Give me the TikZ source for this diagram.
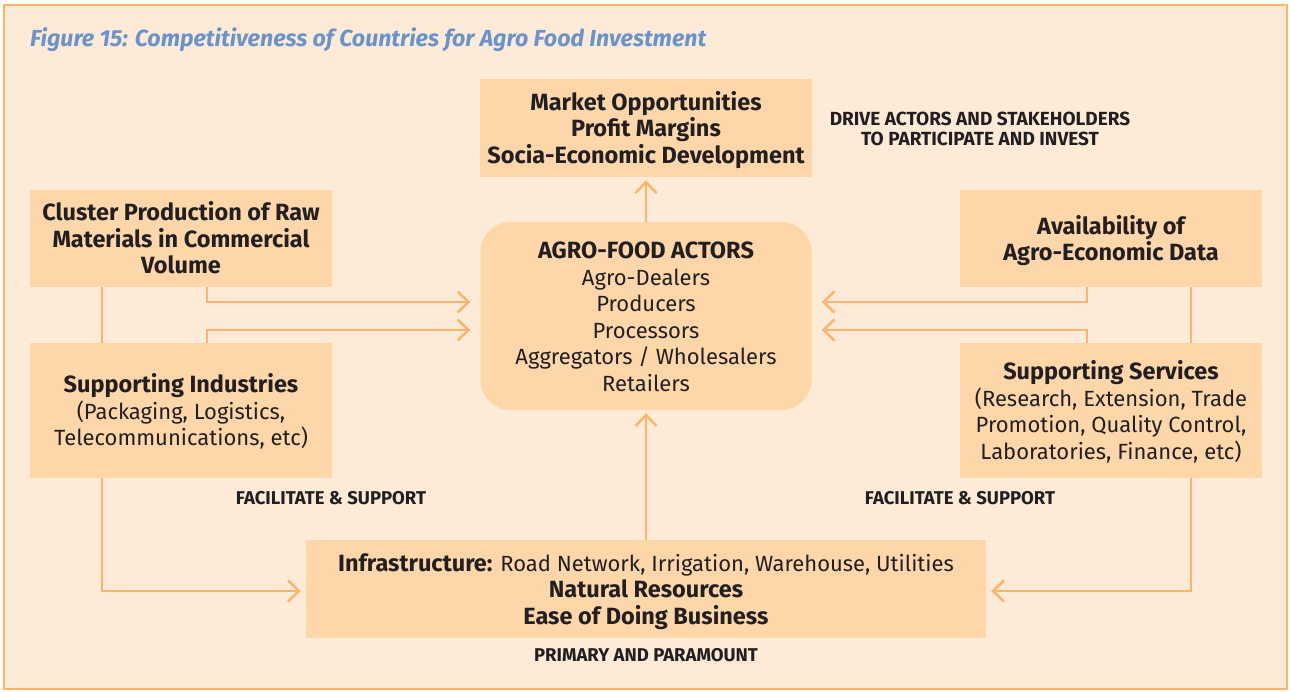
\documentclass[tikz,border=0pt]{standalone}
\usepackage{fontspec}
\setmainfont{Fira Sans}
\usetikzlibrary{arrows.meta,calc}
\definecolor{frameline}{HTML}{FDB46B}
\definecolor{paper}{HTML}{FEEBD7}
\definecolor{boxfill}{HTML}{FDD7AA}
\definecolor{titleblue}{HTML}{6A93CB}
\definecolor{ink}{HTML}{231F20}
\newcommand{\hd}{\fontsize{23.5}{26.5}\selectfont\bfseries}
% feste Hoehe der ersten und Tiefe der letzten Zeile
\newcommand{\firstln}{\rule{0pt}{23.5pt}}
\newcommand{\lastln}{\rule[-6pt]{0pt}{6pt}}
\tikzset{
  box/.style={fill=boxfill, text=ink, align=center, inner sep=0pt,
    font=\fontsize{22}{26.5}\selectfont},
  tag/.style={text=ink, align=center, inner sep=0pt,
    font=\fontsize{18.5}{20}\selectfont\bfseries},
  link/.style={draw=frameline, line width=2.5pt},
  arr/.style={link, -{Straight Barb[length=11pt,width=21pt,line width=2.5pt]}}
}
\begin{document}
\begin{tikzpicture}[x=1pt,y=-1pt]
\useasboundingbox (0,0) rectangle (1290,691);
\fill[white] (0,0) rectangle (1290,691);
% Rahmen und Titel
\draw[frameline, fill=paper, line width=2.5pt] (4,5) rectangle (1287,689);
\node[anchor=west, text=titleblue, inner sep=0pt,
  font=\fontsize{23.2}{24}\selectfont\bfseries\itshape] (title) at (30,40)
  {Figure 15: Competitiveness of Countries for Agro Food Investment};
% Kaesten
\node[box, minimum width=332pt, minimum height=98pt] (market) at (646,128)
  {\firstln\hd Market Opportunities\\\hd Profit Margins\\\hd Socia-Economic Development\lastln};
\node[box, rounded corners=30pt, minimum width=331pt, minimum height=188pt] (actors) at (646,316)
  {\firstln\hd AGRO-FOOD ACTORS\\Agro-Dealers\\Producers\\Processors\\Aggregators / Wholesalers\\Retailers\lastln};
\node[box, minimum width=302pt, minimum height=97pt] (cluster) at (181,238.5)
  {\firstln\hd Cluster Production of Raw\\\hd Materials in Commercial\\\hd Volume\lastln};
\node[box, minimum width=302pt, minimum height=97pt] (avail) at (1111,238.5)
  {\firstln\hd Availability of\\\hd Agro-Economic Data\lastln};
\node[box, minimum width=302pt, minimum height=135pt] (suppind) at (181,410.5)
  {\firstln\hd Supporting Industries\\(Packaging, Logistics,\\Telecommunications, etc)\lastln};
\node[box, minimum width=302pt, minimum height=135pt] (suppserv) at (1111,410.5)
  {\firstln\hd Supporting Services\\(Research, Extension, Trade\\Promotion, Quality Control,\\Laboratories, Finance, etc)\lastln};
\node[box, minimum width=680pt, minimum height=98pt] (infra) at (646,589)
  {\firstln{\hd Infrastructure:} Road Network, Irrigation, Warehouse, Utilities\\\hd Natural Resources\\\hd Ease of Doing Business\lastln};
% Beschriftungen
\node[tag, font=\fontsize{19}{20}\selectfont\bfseries] (drive) at (980,129) {DRIVE ACTORS AND STAKEHOLDERS\\TO PARTICIPATE AND INVEST};
\node[tag] (facleft) at (331,498) {FACILITATE \& SUPPORT};
\node[tag] (facright) at (960,498) {FACILITATE \& SUPPORT};
\node[tag] (primary) at (646,655) {PRIMARY AND PARAMOUNT};
% Pfeile
\draw[arr, shorten >=3pt] (actors.north) -- (market.south);
\draw[arr, shorten >=3pt] (infra.north) -- (actors.south);
\draw[arr, shorten >=10pt] ([xshift=26pt]cluster.south) |- ([yshift=14pt]actors.west);
\draw[arr, shorten >=10pt] ([xshift=26pt]suppind.north) |- ([yshift=-14pt]actors.west);
\draw[arr, shorten >=10pt] ([xshift=-24pt]avail.south) |- ([yshift=14pt]actors.east);
\draw[arr, shorten >=10pt] ([xshift=-24pt]suppserv.north) |- ([yshift=-14pt]actors.east);
\draw[link] ([xshift=-79pt]cluster.south) -- ([xshift=-79pt]suppind.north);
\draw[link] ([xshift=80pt]avail.south) -- ([xshift=80pt]suppserv.north);
\draw[arr, shorten >=5pt] ([xshift=-79pt]suppind.south) |- ([yshift=-2pt]infra.west);
\draw[arr, shorten >=5pt] ([xshift=80pt]suppserv.south) |- ([yshift=-2pt]infra.east);
\end{tikzpicture}
\end{document}
